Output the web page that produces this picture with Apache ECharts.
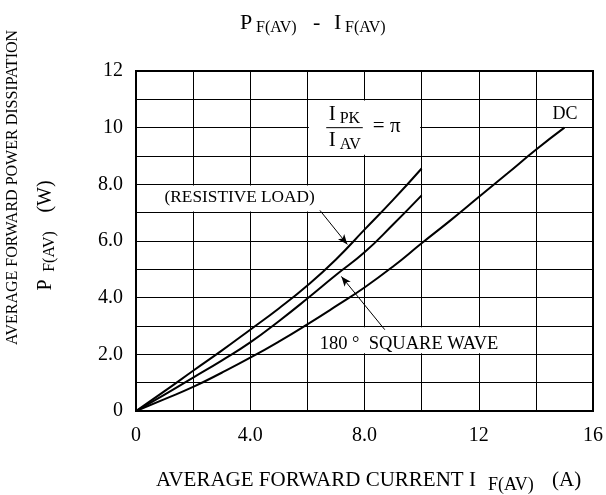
<!DOCTYPE html>
<html><head><meta charset="utf-8">
<script src="https://cdn.jsdelivr.net/npm/echarts@6/dist/echarts.min.js"></script>
<style>html,body{margin:0;padding:0;background:#fff}#c{width:606px;height:495px}</style>
</head><body><div id="c"></div>
<script>
const FONT = "'Liberation Serif', 'DejaVu Serif', serif";

// Data
const currentX    = [0, 1, 2, 3, 4, 5, 6, 7, 8, 9, 10];
const resistiveY  = [0, 0.70, 1.42, 2.13, 2.87, 3.62, 4.43, 5.35, 6.40, 7.45, 8.56];
const squareWaveY = [0, 0.58, 1.18, 1.78, 2.42, 3.17, 3.97, 4.80, 5.60, 6.58, 7.61];
const dcX = [0, 1, 2, 3, 4, 5, 6, 7, 8, 9, 10, 11, 12, 13, 14, 15];
const dcY = [0, 0.42, 0.85, 1.35, 1.88, 2.45, 3.06, 3.70, 4.36, 5.10, 5.92, 6.72, 7.55, 8.38, 9.22, 10.0];
const xTickValues = [0, 4, 8, 12, 16];
const xTickLabels = ['0', '4.0', '8.0', '12', '16'];
const yTickValues = [0, 2, 4, 6, 8, 10, 12];
const yTickLabels = ['0', '2.0', '4.0', '6.0', '8.0', '10', '12'];

const zip = (xs, ys) => xs.map((x, i) => [x, ys[i]]);
const chart = echarts.init(document.getElementById('c'));

const lineStyle = {color: '#000', width: 2};
chart.setOption({
  animation: false,
  backgroundColor: '#fff',
  textStyle: {fontFamily: FONT},
  grid: {left: 136, right: 9, top: 71, bottom: 84, show: true, borderColor: '#000', borderWidth: 2},
  xAxis: {
    type: 'value', min: 0, max: 16, interval: 2,
    axisLine: {show: true, lineStyle: {color: '#000', width: 2}},
    axisTick: {show: false},
    splitLine: {show: true, lineStyle: {color: '#000', width: 1}},
    axisLabel: {
      margin: 15, color: '#000', fontSize: 20, fontFamily: FONT,
      formatter: v => { const i = xTickValues.indexOf(v); return i >= 0 ? xTickLabels[i] : ''; }
    }
  },
  yAxis: {
    type: 'value', min: 0, max: 12, interval: 1,
    axisLine: {show: true, lineStyle: {color: '#000', width: 2}},
    axisTick: {show: false},
    splitLine: {show: true, lineStyle: {color: '#000', width: 1}},
    axisLabel: {
      margin: 13, color: '#000', fontSize: 20, fontFamily: FONT,
      formatter: v => { const i = yTickValues.indexOf(v); return i >= 0 ? yTickLabels[i] : ''; }
    }
  },
  series: [
    {type: 'line', name: 'Resistive load', data: zip(currentX, resistiveY), showSymbol: false, smooth: 0.5, lineStyle, z: 3,
     markLine: {
       silent: true, symbol: ['none', 'arrow'], symbolSize: [6, 10],
       lineStyle: {color: '#000', width: 1, type: 'solid'}, label: {show: false},
       data: [
         [{coord: [6.44, 7.08]}, {coord: [7.40, 5.88]}],
         [{coord: [8.71, 2.87]}, {coord: [7.19, 4.75]}]
       ]
     }},
    {type: 'line', name: '180° square wave', data: zip(currentX, squareWaveY), showSymbol: false, smooth: 0.5, lineStyle, z: 3},
    {type: 'line', name: 'DC', data: zip(dcX, dcY), showSymbol: false, smooth: 0.5, lineStyle, z: 3}
  ]
});

const px = (x, y) => chart.convertToPixel({gridIndex: 0}, [x, y]);
function box(x0, x1, y0, y1) {
  const a = px(x0, y1), b = px(x1, y0);
  return {type: 'rect', z: 1, silent: true,
    shape: {x: a[0] + 1.5, y: a[1] + 1.2, width: b[0] - a[0] - 3, height: b[1] - a[1] - 2.4},
    style: {fill: '#fff'}};
}
function txt(text, x, y, size, align, rot) {
  const t = {type: 'text', z: 5, silent: true, x, y,
    style: {text, fontSize: size, fontFamily: FONT, fill: '#000', align: align || 'left', verticalAlign: 'middle'}};
  if (rot) t.rotation = rot;
  return t;
}
function dtxt(text, dx, dy, size, align) {
  const p = px(dx, dy);
  return txt(text, p[0], p[1], size, align);
}
const bar0 = px(6.66, 10), bar1 = px(7.94, 10);
const R = Math.PI / 2;
chart.setOption({
  graphic: [
    box(0, 7.97, 7, 8),
    box(6, 10, 9, 11),
    box(6, 14, 2, 3),
    // in-plot labels
    dtxt('(RESISTIVE LOAD)', 1.0, 7.52, 17.3),
    dtxt('180 °  SQUARE WAVE', 6.43, 2.37, 18.5),
    dtxt('DC', 15.02, 10.49, 18, 'center'),
    dtxt('I', 6.75, 10.48, 21),
    dtxt('PK', 7.13, 10.33, 16),
    dtxt('I', 6.75, 9.56, 21),
    dtxt('AV', 7.13, 9.41, 16),
    dtxt('= π', 8.29, 10.05, 21),
    {type: 'line', z: 5, silent: true, shape: {x1: bar0[0], y1: bar0[1], x2: bar1[0], y2: bar1[1]}, style: {stroke: '#000', lineWidth: 1}},
    // chart title
    txt('P', 240, 23.3, 22),
    txt('F(AV)', 256, 27.9, 16),
    txt('-', 313, 23.3, 22),
    txt('I', 334, 23.3, 22),
    txt('F(AV)', 345, 27.9, 16),
    // x axis title
    txt('AVERAGE FORWARD CURRENT I', 156, 480.2, 21),
    txt('F(AV)', 488, 484.9, 18),
    txt('(A)', 552, 480.2, 21),
    // y axis title
    txt('AVERAGE FORWARD POWER DISSIPATION', 13, 187.5, 16, 'center', R),
    txt('P', 45.7, 285, 20, 'center', R),
    txt('F(AV)', 50, 251.5, 16, 'center', R),
    txt('(W)', 45.7, 196.5, 20, 'center', R)
  ]
});
</script>
</body></html>
